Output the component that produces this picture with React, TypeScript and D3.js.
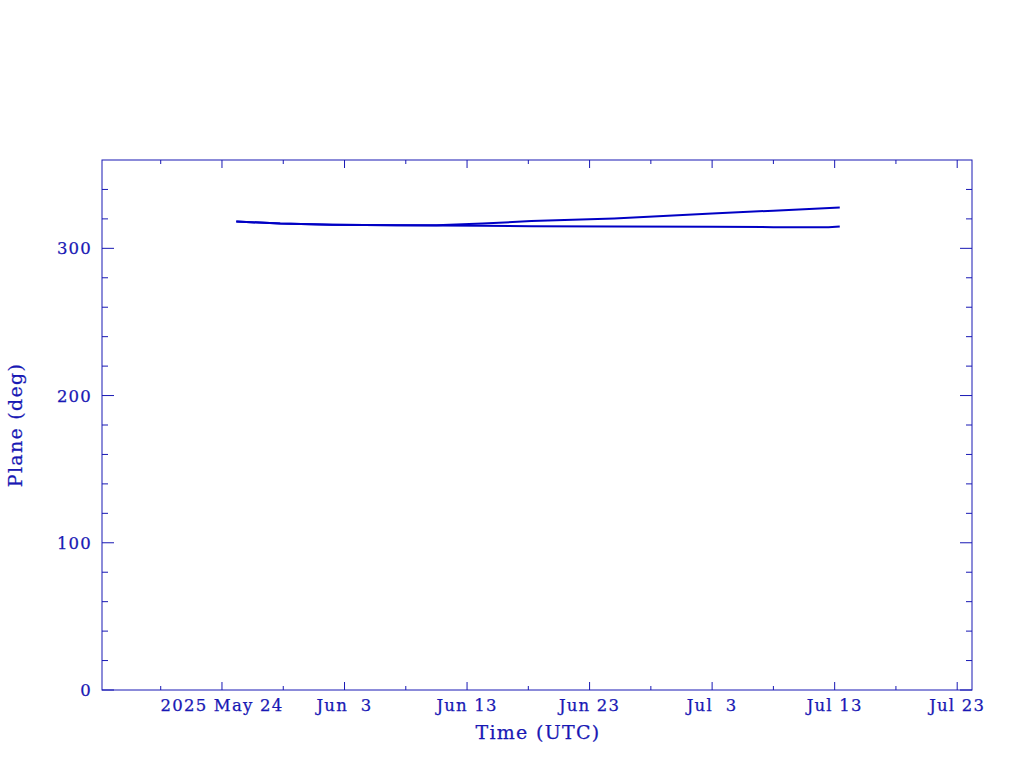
import * as d3 from 'd3';

// two traces, values (deg)
const datesA = ['2025-05-25T04:00', '2025-05-28T18:00', '2025-06-02T00:00', '2025-06-07T06:00', '2025-06-10T12:00', '2025-06-14T06:00', '2025-06-18T06:00', '2025-06-25T00:00', '2025-07-03T00:00', '2025-07-08T00:00', '2025-07-13T10:00'];
const valuesA = [318.2, 316.8, 316.0, 315.6, 315.6, 316.8, 318.5, 320.2, 323.6, 325.6, 327.8];
const datesB = ['2025-05-25T04:00', '2025-05-28T18:00', '2025-06-02T00:00', '2025-06-07T06:00', '2025-06-10T12:00', '2025-06-14T06:00', '2025-06-18T06:00', '2025-06-25T00:00', '2025-07-03T00:00', '2025-07-08T00:00', '2025-07-12T12:00', '2025-07-13T10:00'];
const valuesB = [318.2, 316.8, 316.0, 315.6, 315.5, 315.3, 315.0, 314.9, 314.6, 314.4, 314.3, 314.8];

const xMajorLabels = ['2025 May 24', 'Jun  3', 'Jun 13', 'Jun 23', 'Jul  3', 'Jul 13', 'Jul 23'];
const xMajorDates = ['2025-05-24', '2025-06-03', '2025-06-13', '2025-06-23', '2025-07-03', '2025-07-13', '2025-07-23'];
const yMajor = [0, 100, 200, 300];

const parse = d3.utcParse('%Y-%m-%dT%H:%M');
const parseDay = d3.utcParse('%Y-%m-%d');

const W = 1024, H = 768;
const left = 102, right = 972, top = 160, bottom = 690;
const ink = '#1818b4';
const lineCol = '#0000c4';
const font = '"DejaVu Serif", serif';

export default function App() {
  const x = d3.scaleUtc()
    .domain([new Date(Date.UTC(2025, 4, 14, 5)), new Date(Date.UTC(2025, 6, 24, 5))])
    .range([left, right]);
  const y = d3.scaleLinear().domain([0, 360]).range([bottom, top]);

  const majorX = xMajorDates.map(d => parseDay(d) as Date);
  // minor ticks every 5 days, between the majors
  const minorX = majorX.map(d => d3.utcDay.offset(d, -5)).concat([d3.utcDay.offset(majorX[majorX.length - 1], 5)])
    .filter(d => x(d) > left && x(d) < right);

  const yMinor = d3.range(0, 360, 20).filter(v => v % 100 !== 0);

  const line = d3.line<[Date, number]>().x(d => x(d[0])).y(d => y(d[1]));
  const ptsA = datesA.map((d, i) => [parse(d) as Date, valuesA[i]] as [Date, number]);
  const ptsB = datesB.map((d, i) => [parse(d) as Date, valuesB[i]] as [Date, number]);

  return (
    <svg width={W} height={H} style={{ position: 'absolute', left: 0, top: 0, background: '#fff' }}>
      <rect x={left} y={top} width={right - left} height={bottom - top} fill="none" stroke={ink} strokeWidth={1} />
      {majorX.map((d, i) => (
        <g key={'mx' + i}>
          <line x1={x(d)} x2={x(d)} y1={bottom} y2={bottom - 8} stroke={ink} />
          <line x1={x(d)} x2={x(d)} y1={top} y2={top + 8} stroke={ink} />
          <text x={x(d)} y={711} textAnchor="middle" fontFamily={font} fontSize={16.5} letterSpacing={1.2}
            fill={ink} stroke={ink} strokeWidth={0.25} style={{ whiteSpace: 'pre' }}>{xMajorLabels[i]}</text>
        </g>
      ))}
      {minorX.map((d, i) => (
        <g key={'nx' + i}>
          <line x1={x(d)} x2={x(d)} y1={bottom} y2={bottom - 4} stroke={ink} />
          <line x1={x(d)} x2={x(d)} y1={top} y2={top + 4} stroke={ink} />
        </g>
      ))}
      {yMajor.map(v => (
        <g key={'my' + v}>
          <line x1={left} x2={left + 12} y1={y(v)} y2={y(v)} stroke={ink} />
          <line x1={right} x2={right - 12} y1={y(v)} y2={y(v)} stroke={ink} />
          <text x={92} y={y(v) + 6} textAnchor="end" fontFamily={font} fontSize={16.5} letterSpacing={1.2}
            fill={ink} stroke={ink} strokeWidth={0.25}>{v}</text>
        </g>
      ))}
      {yMinor.map(v => (
        <g key={'ny' + v}>
          <line x1={left} x2={left + 6} y1={y(v)} y2={y(v)} stroke={ink} />
          <line x1={right} x2={right - 6} y1={y(v)} y2={y(v)} stroke={ink} />
        </g>
      ))}
      <path d={line(ptsB) ?? ''} fill="none" stroke={lineCol} strokeWidth={2} />
      <path d={line(ptsA) ?? ''} fill="none" stroke={lineCol} strokeWidth={2} />
      <text x={538} y={739} textAnchor="middle" fontFamily={font} fontSize={19} letterSpacing={1.3}
        fill={ink} stroke={ink} strokeWidth={0.25}>Time (UTC)</text>
      <text transform={`translate(22, ${425}) rotate(-90)`} textAnchor="middle" fontFamily={font} fontSize={19}
        letterSpacing={1.3} fill={ink} stroke={ink} strokeWidth={0.25}>Plane (deg)</text>
    </svg>
  );
}
